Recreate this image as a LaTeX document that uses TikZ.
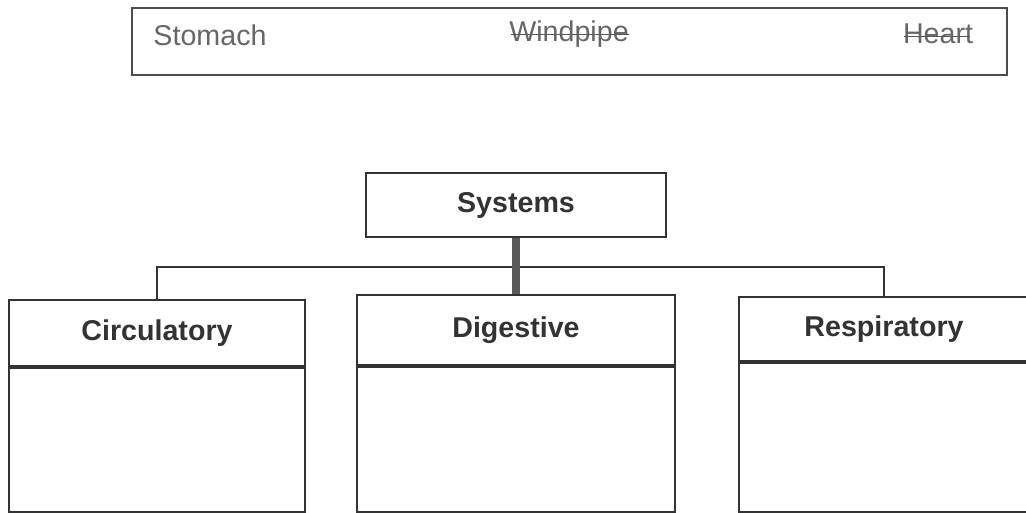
\documentclass[tikz,border=0pt]{standalone}
\usepackage{fontspec}
\setmainfont{Liberation Sans}
\usetikzlibrary{positioning}
\tikzset{
  word/.style={font=\fontsize{16.3}{19}\selectfont, text=black!60},
  head/.style={draw=black!80, line width=1pt, inner sep=0pt,
    font=\fontsize{16.3}{19}\selectfont\bfseries, text=black!80},
  body/.style={draw=black!80, line width=1pt, inner sep=0pt},
  link/.style={draw=black!80, line width=1pt},
  trunk/.style={draw=black!65, line width=4pt},
  strike/.style={draw=black!65, line width=0.6pt},
}
\begin{document}
\begin{tikzpicture}[x=0.02cm,y=-0.02cm]
    \useasboundingbox (0,0) rectangle (1026,512);
    \clip (0,0) rectangle (1026,512);

    % word bank
    \node[draw=black!70, line width=0.8pt, minimum width=17.5cm, minimum height=1.34cm] (bank) at (569.5,41.5) {};
    \node[word] (stomach) at (210,35) {Stomach};
    \node[word] (windpipe) at (569,34) {Windpipe};
    \node[word] (heart) at (938,34) {Heart};
    \draw[strike] ([xshift=4.5pt,yshift=4pt]windpipe.base west) -- ([xshift=-3.5pt,yshift=4pt]windpipe.base east);
    \draw[strike] ([xshift=4pt,yshift=4pt]heart.base west) -- ([xshift=-5pt,yshift=4pt]heart.base east);

    % chart
    \node[head, minimum width=6cm, minimum height=1.28cm] (sys) at (516,205) {Systems};

    \node[head, minimum width=5.92cm, minimum height=1.32cm] (circ) at (157,333) {Circulatory};
    \node[body, minimum width=5.92cm, minimum height=2.88cm, below=0pt of circ] (circbody) {};

    \node[head, minimum width=6.36cm, minimum height=1.4cm] (dig) at (516,330) {Digestive};
    \node[body, minimum width=6.36cm, minimum height=2.9cm, below=0pt of dig] (digbody) {};

    \node[head, minimum width=5.8cm, minimum height=1.28cm] (resp) at (884,329) {Respiratory};
    \node[body, minimum width=5.8cm, minimum height=2.98cm, below=0pt of resp] (respbody) {};

    \coordinate (bus) at (516,267);
    \draw[link] (circ.north) |- (bus) -| (resp.north);
    \draw[trunk] (sys.south) -- (dig.north);
\end{tikzpicture}
\end{document}
